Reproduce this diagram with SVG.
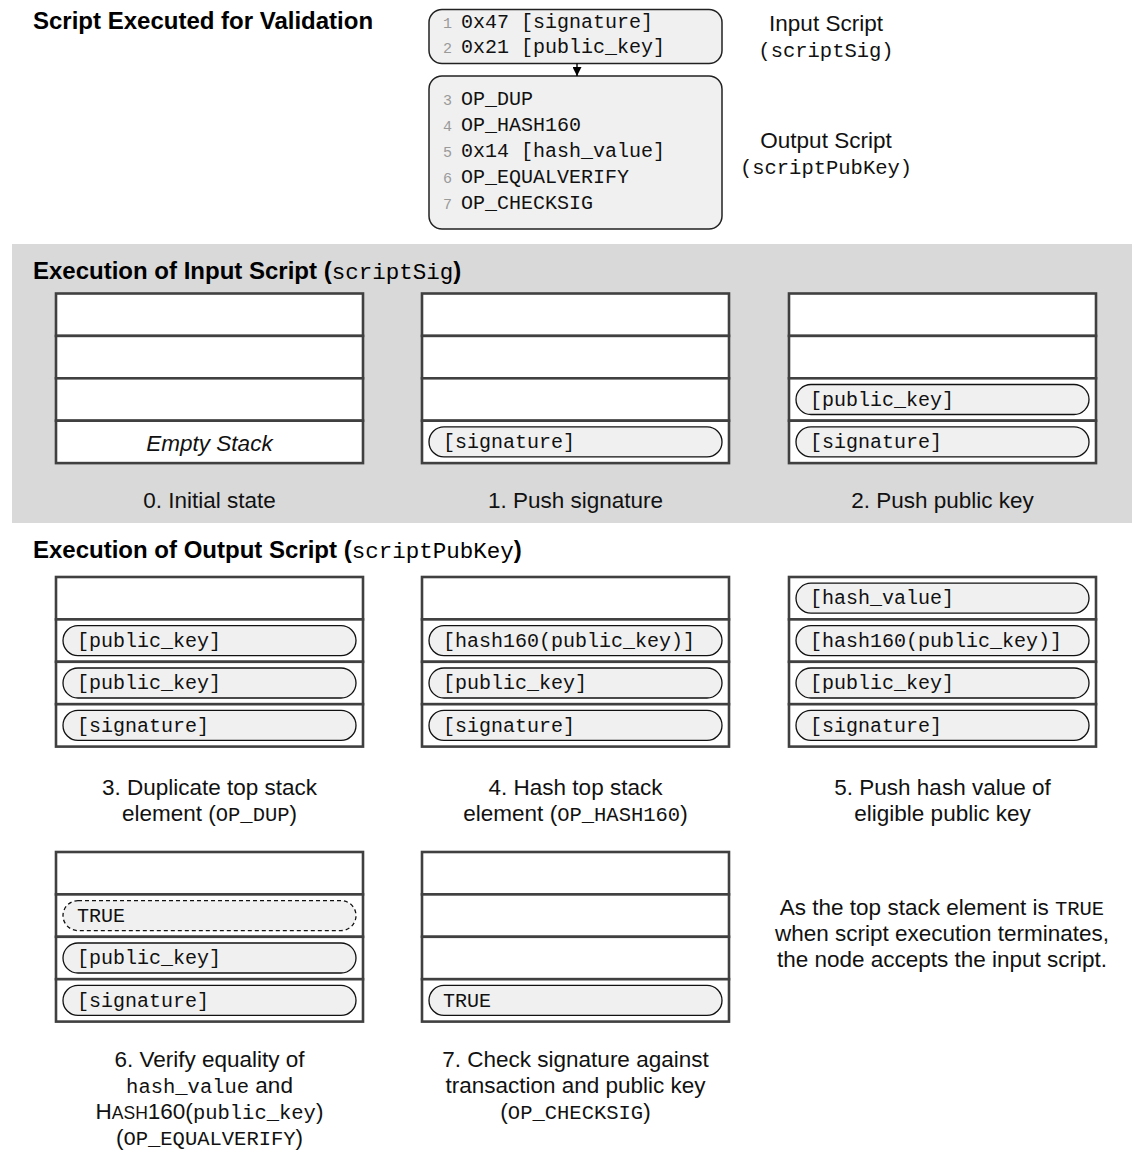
<svg xmlns="http://www.w3.org/2000/svg" xmlns:xlink="http://www.w3.org/1999/xlink" width="1132" height="1158" viewBox="0 0 1132 1158">
  <style>
    .ttl { font: bold 24px "Liberation Sans", Arial, sans-serif; fill: #000; }
    .hmono { font: 22.5px "Liberation Mono", monospace; font-weight: normal; }
    .lbl { font: 22.5px "Liberation Sans", Arial, sans-serif; fill: #111; text-anchor: middle; }
    .lm { font-family: "Liberation Mono", monospace; font-size: 20.5px; }
    .sc { font-size: 17.5px; }
    .cell { fill: #fff; stroke: #404040; stroke-width: 2.6; }
    .pill { fill: #f0f0f0; stroke: #111; stroke-width: 1.3; }
    .dash { stroke-dasharray: 4 3; }
    .ptxt { font: 20px "Liberation Mono", monospace; fill: #111; }
    .code { fill: #f0f0f0; stroke: #222; stroke-width: 1.5; }
    .ctxt { font: 20px "Liberation Mono", monospace; fill: #111; }
    .lno { font: 15px "Liberation Mono", monospace; fill: #9a9a9a; }
    .empty { font: italic 22.5px "Liberation Sans", Arial, sans-serif; fill: #111; text-anchor: middle; }
    .conn { stroke: #000; stroke-width: 1.4; fill: none; }
  </style>
  <defs>
    <!-- four-slot stack frame, slot height 42.4 -->
    <g id="frame">
      <rect class="cell" x="0" y="0" width="307" height="42.4"/>
      <rect class="cell" x="0" y="42.4" width="307" height="42.4"/>
      <rect class="cell" x="0" y="84.8" width="307" height="42.4"/>
      <rect class="cell" x="0" y="127.2" width="307" height="42.4"/>
    </g>
    <marker id="arrow" viewBox="0 0 10 10" refX="10" refY="5" markerWidth="9" markerHeight="9" markerUnits="userSpaceOnUse" orient="auto">
      <path d="M0,0 L10,5 L0,10 z" fill="#000"/>
    </marker>
  </defs>

  <!-- shaded band behind the input-script steps -->
  <rect x="12" y="244" width="1120" height="279" fill="#d9d9d9"/>

  <!-- section headings -->
  <text class="ttl" x="33" y="29">Script Executed for Validation</text>
  <text class="ttl" x="33" y="279">Execution of Input Script (<tspan class="hmono">scriptSig</tspan>)</text>
  <text class="ttl" x="33" y="558">Execution of Output Script (<tspan class="hmono">scriptPubKey</tspan>)</text>

  <!-- script listing -->
  <g id="input-script">
    <rect class="code" x="429" y="9.5" width="293" height="54" rx="13"/>
    <text class="lno" x="443" y="28">1</text>
    <text class="ctxt" x="461" y="28">0x47 [signature]</text>
    <text class="lno" x="443" y="53">2</text>
    <text class="ctxt" x="461" y="53">0x21 [public_key]</text>
  </g>
  <g id="output-script">
    <rect class="code" x="429" y="76" width="293" height="153" rx="13"/>
    <text class="lno" x="443" y="105">3</text>
    <text class="ctxt" x="461" y="105">OP_DUP</text>
    <text class="lno" x="443" y="131">4</text>
    <text class="ctxt" x="461" y="131">OP_HASH160</text>
    <text class="lno" x="443" y="157">5</text>
    <text class="ctxt" x="461" y="157">0x14 [hash_value]</text>
    <text class="lno" x="443" y="183">6</text>
    <text class="ctxt" x="461" y="183">OP_EQUALVERIFY</text>
    <text class="lno" x="443" y="209">7</text>
    <text class="ctxt" x="461" y="209">OP_CHECKSIG</text>
  </g>
  <g id="input-script-label">
    <text class="lbl" x="826" y="31">Input Script</text>
    <text class="lbl" x="826" y="57"><tspan class="lm" font-size="20">(scriptSig)</tspan></text>
  </g>
  <g id="output-script-label">
    <text class="lbl" x="826" y="148">Output Script</text>
    <text class="lbl" x="826" y="174"><tspan class="lm" font-size="20">(scriptPubKey)</tspan></text>
  </g>

  <g id="connectors">
    <line class="conn" x1="577" y1="63.5" x2="577" y2="76" marker-end="url(#arrow)"/>
  </g>

  <!-- step 0 -->
  <g id="step0" transform="translate(56,293.5)">
    <use xlink:href="#frame"/>
    <text class="empty" x="153.5" y="157">Empty Stack</text>
  </g>
  <!-- step 1 -->
  <g id="step1" transform="translate(422,293.5)">
    <use xlink:href="#frame"/>
    <rect class="pill" x="7" y="133.4" width="293" height="30" rx="15"/>
    <text class="ptxt" x="21" y="154.5">[signature]</text>
  </g>
  <!-- step 2 -->
  <g id="step2" transform="translate(789,293.5)">
    <use xlink:href="#frame"/>
    <rect class="pill" x="7" y="91" width="293" height="30" rx="15"/>
    <text class="ptxt" x="21" y="112.1">[public_key]</text>
    <rect class="pill" x="7" y="133.4" width="293" height="30" rx="15"/>
    <text class="ptxt" x="21" y="154.5">[signature]</text>
  </g>

  <!-- step 3 -->
  <g id="step3" transform="translate(56,577)">
    <use xlink:href="#frame"/>
    <rect class="pill" x="7" y="48.6" width="293" height="30" rx="15"/>
    <text class="ptxt" x="21" y="69.7">[public_key]</text>
    <rect class="pill" x="7" y="91" width="293" height="30" rx="15"/>
    <text class="ptxt" x="21" y="112.1">[public_key]</text>
    <rect class="pill" x="7" y="133.4" width="293" height="30" rx="15"/>
    <text class="ptxt" x="21" y="154.5">[signature]</text>
  </g>
  <!-- step 4 -->
  <g id="step4" transform="translate(422,577)">
    <use xlink:href="#frame"/>
    <rect class="pill" x="7" y="48.6" width="293" height="30" rx="15"/>
    <text class="ptxt" x="21" y="69.7">[hash160(public_key)]</text>
    <rect class="pill" x="7" y="91" width="293" height="30" rx="15"/>
    <text class="ptxt" x="21" y="112.1">[public_key]</text>
    <rect class="pill" x="7" y="133.4" width="293" height="30" rx="15"/>
    <text class="ptxt" x="21" y="154.5">[signature]</text>
  </g>
  <!-- step 5 -->
  <g id="step5" transform="translate(789,577)">
    <use xlink:href="#frame"/>
    <rect class="pill" x="7" y="6.2" width="293" height="30" rx="15"/>
    <text class="ptxt" x="21" y="27.3">[hash_value]</text>
    <rect class="pill" x="7" y="48.6" width="293" height="30" rx="15"/>
    <text class="ptxt" x="21" y="69.7">[hash160(public_key)]</text>
    <rect class="pill" x="7" y="91" width="293" height="30" rx="15"/>
    <text class="ptxt" x="21" y="112.1">[public_key]</text>
    <rect class="pill" x="7" y="133.4" width="293" height="30" rx="15"/>
    <text class="ptxt" x="21" y="154.5">[signature]</text>
  </g>

  <!-- step 6 -->
  <g id="step6" transform="translate(56,852)">
    <use xlink:href="#frame"/>
    <rect class="pill dash" x="7" y="48.6" width="293" height="30" rx="15"/>
    <text class="ptxt" x="21" y="69.7">TRUE</text>
    <rect class="pill" x="7" y="91" width="293" height="30" rx="15"/>
    <text class="ptxt" x="21" y="112.1">[public_key]</text>
    <rect class="pill" x="7" y="133.4" width="293" height="30" rx="15"/>
    <text class="ptxt" x="21" y="154.5">[signature]</text>
  </g>
  <!-- step 7 -->
  <g id="step7" transform="translate(422,852)">
    <use xlink:href="#frame"/>
    <rect class="pill" x="7" y="133.4" width="293" height="30" rx="15"/>
    <text class="ptxt" x="21" y="154.5">TRUE</text>
  </g>

  <!-- step captions -->
  <g id="captions">
    <text class="lbl" x="209.5" y="508">0. Initial state</text>
    <text class="lbl" x="575.5" y="508">1. Push signature</text>
    <text class="lbl" x="942.5" y="508">2. Push public key</text>

    <text class="lbl" x="209.5" y="795">3. Duplicate top stack</text>
    <text class="lbl" x="209.5" y="821">element (<tspan class="lm">OP_DUP</tspan>)</text>
    <text class="lbl" x="575.5" y="795">4. Hash top stack</text>
    <text class="lbl" x="575.5" y="821">element (<tspan class="lm">OP_HASH160</tspan>)</text>
    <text class="lbl" x="942.5" y="795">5. Push hash value of</text>
    <text class="lbl" x="942.5" y="821">eligible public key</text>

    <text class="lbl" x="209.5" y="1067">6. Verify equality of</text>
    <text class="lbl" x="209.5" y="1093"><tspan class="lm">hash_value</tspan> and</text>
    <text class="lbl" x="209.5" y="1119">H<tspan class="sc">ASH</tspan>160(<tspan class="lm">public_key</tspan>)</text>
    <text class="lbl" x="209.5" y="1145">(<tspan class="lm">OP_EQUALVERIFY</tspan>)</text>
    <text class="lbl" x="575.5" y="1067">7. Check signature against</text>
    <text class="lbl" x="575.5" y="1093">transaction and public key</text>
    <text class="lbl" x="575.5" y="1119">(<tspan class="lm">OP_CHECKSIG</tspan>)</text>
  </g>

  <g id="conclusion">
    <text class="lbl" x="942" y="915">As the top stack element is <tspan class="lm">TRUE</tspan></text>
    <text class="lbl" x="942" y="941">when script execution terminates,</text>
    <text class="lbl" x="942" y="967">the node accepts the input script.</text>
  </g>
</svg>
